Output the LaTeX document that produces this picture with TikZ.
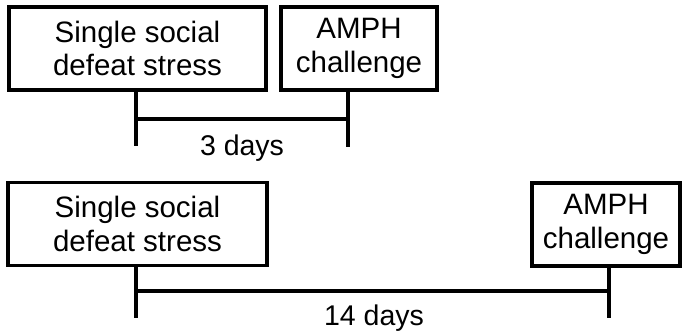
\documentclass[tikz,border=0pt]{standalone}
\usepackage{fontspec}
\setmainfont{Liberation Sans}
\usetikzlibrary{positioning}

\begin{document}
\begin{tikzpicture}[x=1pt, y=-1pt,
    stage/.style={draw, line width=3.5pt, minimum height=83pt, inner sep=0pt,
                  align=center, font=\fontsize{29.5}{33.5}\selectfont},
    span/.style={anchor=base, font=\fontsize{28.5}{33}\selectfont},
    tick/.style={-, line width=3.5pt}
]
\useasboundingbox (0,0) rectangle (682,335);

% --- top timeline: 3 days ---
\node[stage, minimum width=257pt] (stressA) at (137.5, 48.5) {Single social\\defeat stress};
\node[stage, minimum width=156pt] (amphA)   at (359, 48.5)   {AMPH\\challenge};

\coordinate (endA1) at (136, 146);
\coordinate (endA2) at (348, 147);
\coordinate (midA1) at (136, 119);
\coordinate (midA2) at (348, 119);

\draw[tick] (stressA.south -| endA1) -- (endA1);
\draw[tick] (amphA.south -| endA2) -- (endA2);
\draw[tick] (midA1) -- (midA2);
\node[span] (daysA) at (242, 155) {3 days};

% --- bottom timeline: 14 days ---
\node[stage, minimum width=259pt] (stressB) at (137.5, 224)   {Single social\\defeat stress};
\node[stage, minimum width=148pt] (amphB)   at (606, 224.5)   {AMPH\\challenge};

\coordinate (endB1) at (136, 318);
\coordinate (endB2) at (609, 318);
\coordinate (midB1) at (136, 291);
\coordinate (midB2) at (609, 291);

\draw[tick] (stressB.south -| endB1) -- (endB1);
\draw[tick] (amphB.south -| endB2) -- (endB2);
\draw[tick] (midB1) -- (midB2);
\node[span] (daysB) at (374, 325) {14 days};

\end{tikzpicture}
\end{document}
